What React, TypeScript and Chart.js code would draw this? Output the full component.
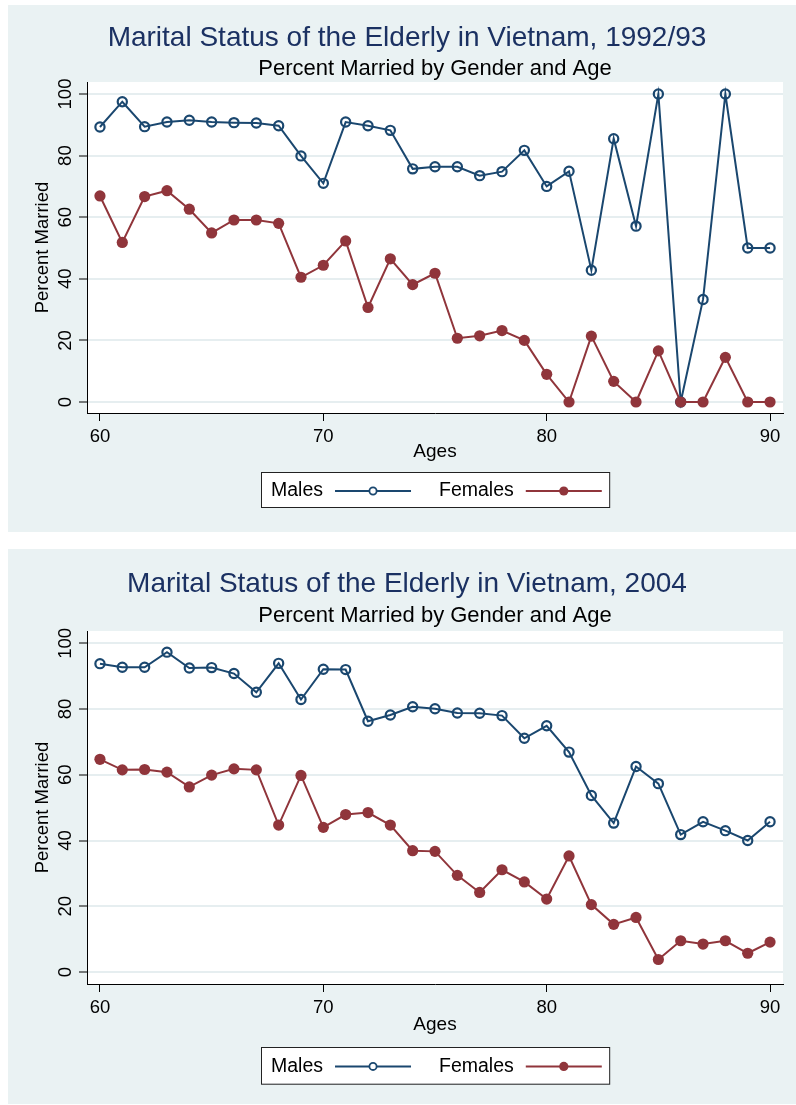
import React, { useEffect, useRef, useState } from "react";
import { Chart, registerables } from "chart.js";

Chart.register(...registerables);

if (typeof document !== "undefined" && document.body) {
  document.body.style.margin = "0";
}

// ---------------- data ----------------
const ages = [60, 61, 62, 63, 64, 65, 66, 67, 68, 69, 70, 71, 72, 73, 74, 75, 76, 77, 78, 79, 80, 81, 82, 83, 84, 85, 86, 87, 88, 89, 90];

const males1993 = [89.3, 97.5, 89.4, 90.9, 91.5, 90.9, 90.7, 90.6, 89.7, 79.9, 71.0, 90.9, 89.7, 88.2, 75.7, 76.4, 76.4, 73.5, 74.8, 81.7, 70.0, 74.9, 42.8, 85.5, 57.1, 100, 0, 33.3, 100, 50, 50];
const females1993 = [66.9, 51.8, 66.7, 68.6, 62.6, 54.9, 59.1, 59.1, 58.0, 40.5, 44.4, 52.3, 30.7, 46.5, 38.1, 41.8, 20.7, 21.5, 23.2, 20.0, 9.0, 0, 21.4, 6.7, 0, 16.6, 0, 0, 14.5, 0, 0];

const males2004 = [93.8, 92.7, 92.7, 97.3, 92.5, 92.6, 90.8, 85.1, 93.9, 82.9, 92.1, 92.0, 76.3, 78.2, 80.7, 80.1, 78.8, 78.7, 78.0, 71.1, 74.9, 66.9, 53.7, 45.3, 62.5, 57.3, 41.8, 45.7, 43.0, 40.0, 45.7];
const females2004 = [64.7, 61.5, 61.6, 60.8, 56.3, 59.9, 61.8, 61.5, 44.7, 59.8, 44.0, 47.9, 48.5, 44.7, 36.9, 36.7, 29.4, 24.2, 31.1, 27.4, 22.2, 35.3, 20.5, 14.5, 16.6, 3.8, 9.5, 8.5, 9.5, 5.7, 9.1];

const yTicks = [0, 20, 40, 60, 80, 100];
const xTicks = [60, 70, 80, 90];
const seriesNames = ["Males", "Females"];
const title1993 = "Marital Status of the Elderly in Vietnam, 1992/93";
const title2004 = "Marital Status of the Elderly in Vietnam, 2004";
const subtitleText = "Percent Married by Gender and Age";
const xTitle = "Ages";
const yTitle = "Percent Married";

// ---------------- styles ----------------
const FONT = "'Liberation Sans', Arial, Helvetica, sans-serif";
const NAVY = "#1a476f";
const MAROON = "#90353b";
const TITLE_COLOR = "#1b3162";
const BG = "#eaf2f3";
const GRID = "#e6eef0";

const panelPlugin = {
  id: "panelDeco",
  beforeDraw(chart: any) {
    const { ctx, chartArea: a, width, height } = chart;
    ctx.save();
    ctx.fillStyle = BG;
    ctx.fillRect(0, 0, width, height);
    ctx.fillStyle = "#ffffff";
    ctx.fillRect(a.left, a.top, a.right - a.left, a.bottom - a.top);
    ctx.restore();
  },
  afterDraw(chart: any, _args: any, opts: any) {
    const { ctx, chartArea: a } = chart;
    const datasets = chart.data.datasets;
    ctx.save();
    ctx.font = `19.5px ${FONT}`;
    const padL = 10, gapText = 12, lineLen = 76, gapItem = 28, padR = 7.4;
    let w = padL;
    datasets.forEach((ds: any, i: number) => {
      w += ctx.measureText(ds.label).width + gapText + lineLen;
      if (i < datasets.length - 1) w += gapItem;
    });
    w += padR;
    const left = Math.round((a.left + a.right) / 2 - w / 2);
    const top = Math.round(a.bottom + opts.offset);
    const h = opts.height;
    ctx.fillStyle = "#ffffff";
    ctx.fillRect(left, top, w, h);
    ctx.strokeStyle = "#222";
    ctx.lineWidth = 1;
    ctx.strokeRect(left + 0.5, top + 0.5, w, h);
    const cy = top + opts.textY;
    let x = left + padL;
    datasets.forEach((ds: any) => {
      ctx.fillStyle = "#000";
      ctx.textAlign = "left";
      ctx.textBaseline = "middle";
      ctx.fillText(ds.label, x, cy);
      x += ctx.measureText(ds.label).width + gapText;
      ctx.strokeStyle = ds.borderColor;
      ctx.lineWidth = 2;
      ctx.beginPath();
      ctx.moveTo(x, cy);
      ctx.lineTo(x + lineLen, cy);
      ctx.stroke();
      const mx = x + lineLen / 2;
      ctx.beginPath();
      ctx.arc(mx, cy, ds.legendRadius, 0, Math.PI * 2);
      if (ds.legendHollow) {
        ctx.lineWidth = 1.8;
        ctx.fillStyle = "#ffffff";
        ctx.fill();
        ctx.stroke();
      } else {
        ctx.fillStyle = ds.borderColor;
        ctx.fill();
      }
      x += lineLen + gapItem;
    });
    ctx.restore();
  },
};

type PanelCfg = {
  marginTop: number;
  height: number;
  yMin: number;
  yMax: number;
  titlePadTop: number;
  subPadTop: number;
  subPadBottom: number;
  xTitlePadBottom: number;
  legendOffset: number;
  legendHeight: number;
  legendTextY: number;
  layoutBottom: number;
};

function Panel({ title, males, females, cfg }: { title: string; males: number[]; females: number[]; cfg: PanelCfg }) {
  const ref = useRef<HTMLCanvasElement>(null);
  const [err, setErr] = useState("");
  useEffect(() => {
    let chart: any = null;
    try {
      chart = new Chart(ref.current!, {
        type: "line",
        data: {
          datasets: [
            {
              label: seriesNames[0],
              data: ages.map((a, i) => ({ x: a, y: males[i] })),
              borderColor: NAVY,
              borderWidth: 2,
              pointRadius: 4.6,
              pointBorderWidth: 2.2,
              pointBackgroundColor: "rgba(0,0,0,0)",
              pointBorderColor: NAVY,
              tension: 0,
              order: 1,
              legendRadius: 3.6,
              legendHollow: true,
            },
            {
              label: seriesNames[1],
              data: ages.map((a, i) => ({ x: a, y: females[i] })),
              borderColor: MAROON,
              borderWidth: 2,
              pointRadius: 5.6,
              pointBorderWidth: 0,
              pointBackgroundColor: MAROON,
              pointBorderColor: MAROON,
              tension: 0,
              order: 0,
              legendRadius: 4.6,
              legendHollow: false,
            },
          ],
        },
        options: {
          animation: false,
          responsive: false,
          layout: { padding: { left: 23, right: 13, top: 0, bottom: cfg.layoutBottom } },
          scales: {
            x: {
              type: "linear",
              min: 59.42,
              max: 90.58,
              afterBuildTicks: (s: any) => {
                s.ticks = xTicks.map((v) => ({ value: v }));
              },
              afterFit: (s: any) => {
                s.height = 52;
              },
              grid: { drawOnChartArea: false, drawTicks: true, tickLength: 8, tickColor: "#000", tickWidth: 1 },
              border: { display: true, color: "#000", width: 1 },
              ticks: { font: { family: FONT, size: 18.5, lineHeight: 1 }, color: "#000", padding: 7, maxRotation: 0, autoSkip: false },
              title: {
                display: true,
                text: xTitle,
                color: "#000",
                font: { family: FONT, size: 19, lineHeight: 1 },
                padding: { top: 0, bottom: cfg.xTitlePadBottom },
              },
            },
            y: {
              type: "linear",
              min: cfg.yMin,
              max: cfg.yMax,
              afterBuildTicks: (s: any) => {
                s.ticks = yTicks.map((v) => ({ value: v }));
              },
              afterFit: (s: any) => {
                s.width = 56;
              },
              grid: { color: GRID, lineWidth: 2, drawTicks: true, tickLength: 8, tickColor: "#000", tickWidth: 1 },
              border: { display: true, color: "#000", width: 1 },
              ticks: {
                font: { family: FONT, size: 18.5, lineHeight: 1 },
                color: "#000",
                minRotation: 90,
                maxRotation: 90,
                crossAlign: "center",
                autoSkip: false,
                padding: -2,
              },
              title: {
                display: true,
                text: yTitle,
                color: "#000",
                font: { family: FONT, size: 18.5, lineHeight: 1 },
                padding: { top: 3, bottom: 0 },
              },
            },
          },
          plugins: {
            legend: { display: false },
            tooltip: { enabled: false },
            title: {
              display: true,
              text: title,
              color: TITLE_COLOR,
              font: { family: FONT, size: 28, weight: "normal", lineHeight: 1 },
              padding: { top: cfg.titlePadTop, bottom: 0 },
            },
            subtitle: {
              display: true,
              text: subtitleText,
              color: "#000",
              fullSize: false,
              font: { family: FONT, size: 22, weight: "normal", lineHeight: 1 },
              padding: { top: cfg.subPadTop, bottom: cfg.subPadBottom },
            },
            panelDeco: { offset: cfg.legendOffset, height: cfg.legendHeight, textY: cfg.legendTextY },
          },
        },
        plugins: [panelPlugin],
      } as any);
    } catch (e: any) {
      setErr(String(e && e.stack ? e.stack : e));
    }
    return () => {
      if (chart) chart.destroy();
    };
  }, []);
  return (
    <div style={{ marginTop: cfg.marginTop, width: 788, height: cfg.height, position: "relative" }}>
      <canvas ref={ref} width={788} height={cfg.height} style={{ display: "block" }} />
      {err ? <pre style={{ position: "absolute", left: 0, top: 0, fontSize: 10, whiteSpace: "pre-wrap" }}>{err}</pre> : null}
    </div>
  );
}

const topCfg: PanelCfg = {
  marginTop: 0,
  height: 527,
  yMin: -3.57,
  yMax: 103.9,
  titlePadTop: 19.5,
  subPadTop: 5.9,
  subPadBottom: 1.6,
  xTitlePadBottom: 3.5,
  legendOffset: 58.7,
  legendHeight: 35,
  legendTextY: 19,
  layoutBottom: 67,
};

const bottomCfg: PanelCfg = {
  marginTop: 17,
  height: 555,
  yMin: -3.65,
  yMax: 103.74,
  titlePadTop: 21.5,
  subPadTop: 6.5,
  subPadBottom: 4,
  xTitlePadBottom: 1.5,
  legendOffset: 63.3,
  legendHeight: 36.7,
  legendTextY: 19.4,
  layoutBottom: 68,
};

export default function App() {
  useEffect(() => {
    document.body.style.margin = "0";
  }, []);
  return (
    <div style={{ paddingTop: 5, paddingLeft: 8, width: 788, height: 1099 }}>
      <Panel title={title1993} males={males1993} females={females1993} cfg={topCfg} />
      <Panel title={title2004} males={males2004} females={females2004} cfg={bottomCfg} />
    </div>
  );
}
